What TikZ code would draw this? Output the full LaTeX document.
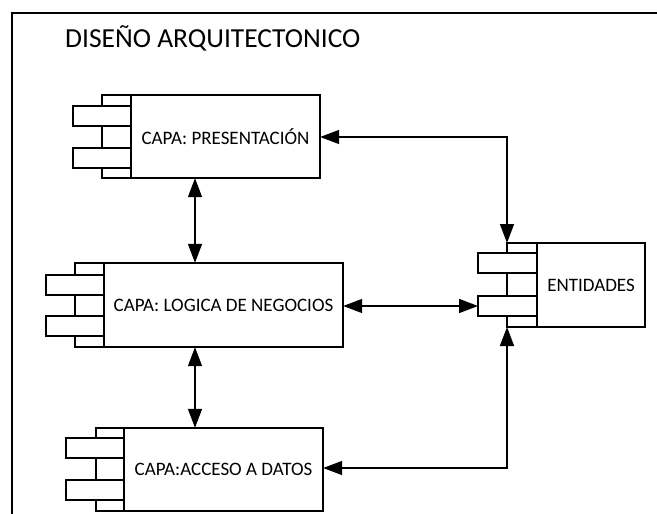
\documentclass[tikz,border=0pt]{standalone}
\usepackage{fontspec}
\setmainfont{Carlito}
\usetikzlibrary{arrows.meta}
\tikzset{
  ln/.style={line width=1.5pt, draw=black},
  biarrow/.style={ln, {Triangle[length=19pt,width=14pt]}-{Triangle[length=19pt,width=14pt]}},
  lbl/.style={font=\fontsize{19}{22}\selectfont, inner sep=0pt},
}
\newcommand{\compo}[9]{%
  % #1 name, #2 back-left x, #3 main-left x, #4 right x, #5 top y, #6 bottom y, #7 tab-left x, #8 tab1 top, #9 tab2 top
  \draw[ln, fill=white] (#2,#5) rectangle (#3,#6);
  \draw[ln, fill=white] (#7,#8) rectangle (#3,#8+20);
  \draw[ln, fill=white] (#7,#9) rectangle (#3,#9+20);
  \draw[ln, fill=white] (#3,#5) rectangle (#4,#6);
  \node[inner sep=0pt, minimum width=#4-#3, minimum height=#6-#5] (#1) at ({(#3+#4)/2},{(#5+#6)/2}) {};
}
\begin{document}
\begin{tikzpicture}[x=1pt,y=-1pt]
\useasboundingbox (0,0) rectangle (657,514);
\fill[white] (0,0) rectangle (657,514);
% frame
\draw[ln] (12,530) -- (12,13) -- (670,13);
\node[anchor=base west, inner sep=0pt, font=\fontsize{27.5}{31}\selectfont] (title) at (65,48) {DISEÑO ARQUITECTONICO};
% components
\compo{pres}{102}{131}{320}{95}{178}{73}{106}{148}
\node[lbl] at (pres.center) {CAPA: PRESENTACIÓN};
\compo{logic}{75}{104}{343}{263}{347}{46}{275}{316}
\node[lbl] at (logic.center) {CAPA: LOGICA DE NEGOCIOS};
\compo{data}{96}{124}{323}{428}{511}{66}{438}{480}
\node[lbl] at (data.center) {CAPA:ACCESO A DATOS};
\compo{ent}{507}{537}{645}{243}{327}{478}{253}{296}
\node[lbl] at (ent.center) {ENTIDADES};
% connectors
\coordinate (entw) at (478,306);
\draw[biarrow] (pres.south -| 195,0) -- (logic.north -| 195,0);
\draw[biarrow] (logic.south -| 195,0) -- (data.north -| 195,0);
\draw[biarrow] (logic.east |- entw) -- (entw);
\coordinate (entn) at (507,243);
\coordinate (ents) at (507,327);
\draw[biarrow] (pres.east |- 0,137) -| (entn);
\draw[biarrow] (data.east |- 0,468) -| (ents);
\end{tikzpicture}
\end{document}
